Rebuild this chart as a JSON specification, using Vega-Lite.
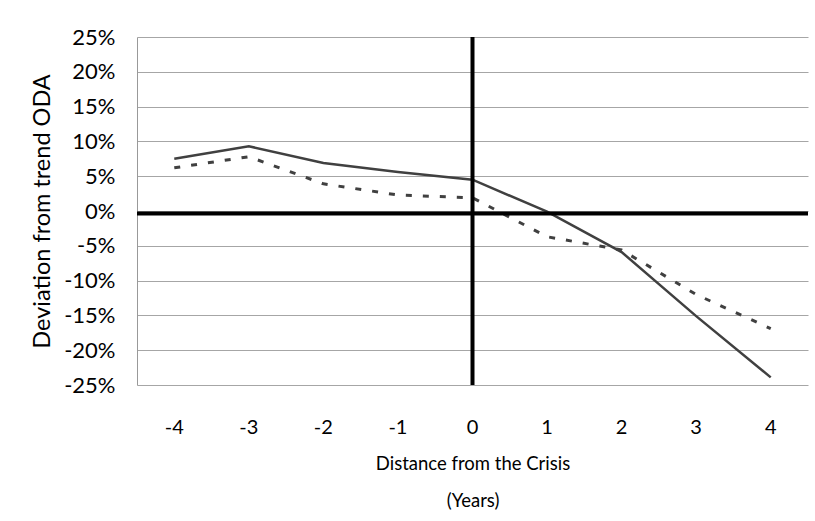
{
  "$schema": "https://vega.github.io/schema/vega-lite/v6.json",
  "width": 671,
  "height": 348,
  "autosize": {"type": "none"},
  "padding": {"left": 137, "top": 37, "right": 7, "bottom": 136},
  "background": "white",
  "config": {
    "view": {"stroke": null},
    "font": "Lato",
    "axis": {"labelOverlap": false},
    "axisY": {"labelOverlap": false}
  },
  "datasets": {
    "series": [
      {"t": -4, "s": "solid", "v": 7.5},
      {"t": -3, "s": "solid", "v": 9.3},
      {"t": -2, "s": "solid", "v": 6.9},
      {"t": -1, "s": "solid", "v": 5.6},
      {"t": 0, "s": "solid", "v": 4.5},
      {"t": 1, "s": "solid", "v": -0.1},
      {"t": 2, "s": "solid", "v": -5.9},
      {"t": 3, "s": "solid", "v": -15.1},
      {"t": 4, "s": "solid", "v": -23.9},
      {"t": -4, "s": "dotted", "v": 6.2},
      {"t": -3, "s": "dotted", "v": 7.8},
      {"t": -2, "s": "dotted", "v": 3.9},
      {"t": -1, "s": "dotted", "v": 2.3},
      {"t": 0, "s": "dotted", "v": 1.9},
      {"t": 1, "s": "dotted", "v": -3.7},
      {"t": 2, "s": "dotted", "v": -5.6},
      {"t": 3, "s": "dotted", "v": -12.0},
      {"t": 4, "s": "dotted", "v": -16.9}
    ],
    "vline": [{"t": 0, "v": -25, "hi": 25}],
    "hline": [{"v": -0.35}]
  },
  "encoding": {
    "x": {
      "field": "t",
      "type": "ordinal",
      "sort": "ascending",
      "scale": {"type": "band", "paddingInner": 0, "paddingOuter": 0},
      "axis": {
        "title": ["Distance from the Crisis", "(Years)"],
        "titleFontSize": 18.5,
        "titleFontWeight": "normal",
        "titleColor": "black",
        "titleLineHeight": 37,
        "titlePadding": 17,
        "labelFontSize": 20,
        "labelColor": "black",
        "labelAngle": 0,
        "labelPadding": 32,
        "ticks": false,
        "domain": false
      }
    },
    "y": {
      "field": "v",
      "type": "quantitative",
      "scale": {"domain": [-25, 25], "nice": false, "zero": false},
      "axis": {
        "values": [-25, -20, -15, -10, -5, 0, 5, 10, 15, 20, 25],
        "labelExpr": "datum.value + '%'",
        "labelOverlap": false,
        "title": "Deviation from trend ODA",
        "titleFontSize": 23.5,
        "titleFontWeight": "normal",
        "titleColor": "black",
        "titlePadding": 9,
        "labelFontSize": 22,
        "labelColor": "black",
        "labelPadding": 22,
        "ticks": false,
        "domain": true,
        "domainColor": "#999999",
        "grid": true,
        "gridColor": "#a6a6a6",
        "gridWidth": 1
      }
    }
  },
  "layer": [
    {
      "data": {"name": "series"},
      "transform": [{"filter": "datum.s === 'solid'"}],
      "mark": {"type": "line", "color": "#404040", "strokeWidth": 2.5}
    },
    {
      "data": {"name": "series"},
      "transform": [{"filter": "datum.s === 'dotted'"}],
      "mark": {"type": "line", "color": "#404040", "strokeWidth": 3, "strokeDash": [6, 11]}
    },
    {
      "data": {"name": "vline"},
      "mark": {"type": "rule", "color": "black", "strokeWidth": 4},
      "encoding": {
        "y2": {"field": "hi"}
      }
    },
    {
      "data": {"name": "hline"},
      "mark": {"type": "rule", "color": "black", "strokeWidth": 4},
      "encoding": {
        "x": null
      }
    }
  ]
}
